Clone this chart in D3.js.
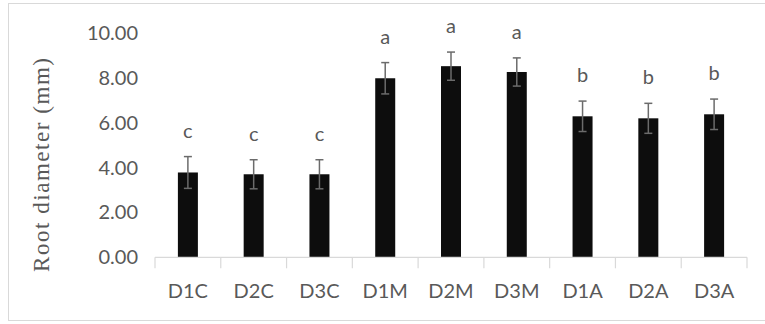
<!DOCTYPE html>
<html>
<head>
<meta charset="utf-8">
<script src="https://cdn.jsdelivr.net/npm/d3@7/dist/d3.min.js"></script>
<style>
  html, body { margin: 0; padding: 0; background: #fff; }
  svg { display: block; }
</style>
</head>
<body>
<script>
// Root diameter by treatment, with standard error and significance letters
const categories = ["D1C", "D2C", "D3C", "D1M", "D2M", "D3M", "D1A", "D2A", "D3A"];
const means      = [3.79, 3.71, 3.71, 8.00, 8.54, 8.28, 6.30, 6.21, 6.39];
const errors     = [0.71, 0.65, 0.65, 0.70, 0.63, 0.63, 0.68, 0.67, 0.68];
const letters    = ["c", "c", "c", "a", "a", "a", "b", "b", "b"];
const yTicks     = [0, 2, 4, 6, 8, 10];

const W = 765, H = 324;
const plot = { left: 155, right: 747, top: 33.5, bottom: 257.3 };
const textColor = "#595959";
const labelFont = "Lato, 'Open Sans', sans-serif";

const svg = d3.select("body").append("svg")
  .attr("width", W).attr("height", H);

// chart frame
svg.append("rect")
  .attr("x", 8.5).attr("y", 3.5)
  .attr("width", 770).attr("height", 317)
  .attr("fill", "#fff")
  .attr("stroke", "#d9d9d9").attr("stroke-width", 1);

const x = d3.scaleBand()
  .domain(categories)
  .range([plot.left, plot.right])
  .paddingInner(0).paddingOuter(0);

const y = d3.scaleLinear()
  .domain([0, 10])
  .range([plot.bottom, plot.top]);

// y-axis tick labels (no axis line)
const yAxis = d3.axisLeft(y)
  .tickValues(yTicks)
  .tickFormat(d3.format(".2f"))
  .tickSize(0)
  .tickPadding(0);
const gy = svg.append("g")
  .attr("transform", `translate(${138},0)`)
  .call(yAxis);
gy.select(".domain").remove();
gy.selectAll("text")
  .attr("fill", textColor)
  .style("font-family", labelFont)
  .style("font-size", "20px");

// bars
const bw = 20;
svg.append("g").selectAll("rect")
  .data(categories)
  .join("rect")
  .attr("x", (d) => x(d) + x.bandwidth() / 2 - bw / 2)
  .attr("y", (d, i) => y(means[i]))
  .attr("width", bw)
  .attr("height", (d, i) => y(0) - y(means[i]))
  .attr("fill", "#0d0d0d");

// error bars
const eg = svg.append("g")
  .attr("stroke", "#6b6b6b")
  .attr("stroke-width", 1.5)
  .attr("fill", "none");
categories.forEach((c, i) => {
  const cx = x(c) + x.bandwidth() / 2;
  const top = y(means[i] + errors[i]);
  const bot = y(means[i] - errors[i]);
  eg.append("line").attr("x1", cx).attr("x2", cx).attr("y1", top).attr("y2", bot);
  eg.append("line").attr("x1", cx - 4).attr("x2", cx + 4).attr("y1", top).attr("y2", top);
  eg.append("line").attr("x1", cx - 4).attr("x2", cx + 4).attr("y1", bot).attr("y2", bot);
});

// significance letters
svg.append("g").selectAll("text")
  .data(categories)
  .join("text")
  .attr("x", (d) => x(d) + x.bandwidth() / 2)
  .attr("y", (d, i) => y(means[i] + errors[i]) - 19)
  .attr("text-anchor", "middle")
  .attr("fill", textColor)
  .style("font-family", labelFont)
  .style("font-size", "20px")
  .text((d, i) => letters[i]);

// x axis with category separators
const xAxis = d3.axisBottom(x).tickSize(0).tickPadding(0);
const gx = svg.append("g")
  .attr("transform", `translate(0,${plot.bottom})`)
  .call(xAxis);
gx.select(".domain")
  .attr("d", `M${plot.left},0H${plot.right}`)
  .attr("stroke", "#d9d9d9").attr("stroke-width", 1.2);
gx.selectAll("text")
  .attr("y", 41)
  .attr("dy", null)
  .attr("fill", textColor)
  .style("font-family", labelFont)
  .style("font-size", "20px");
const bounds = categories.map((c) => x(c)).concat([plot.right]);
gx.selectAll("line.sep")
  .data(bounds)
  .join("line")
  .attr("class", "sep")
  .attr("x1", (d) => d).attr("x2", (d) => d)
  .attr("y1", 0).attr("y2", 11)
  .attr("stroke", "#d9d9d9").attr("stroke-width", 1.2);

// y-axis title
svg.append("text")
  .attr("transform", `translate(49,165) rotate(-90)`)
  .attr("text-anchor", "middle")
  .attr("fill", textColor)
  .attr("textLength", 214)
  .attr("lengthAdjust", "spacing")
  .style("font-family", "'Liberation Serif', 'DejaVu Serif', serif")
  .style("font-size", "23px")
  .text("Root diameter (mm)");
</script>
</body>
</html>
